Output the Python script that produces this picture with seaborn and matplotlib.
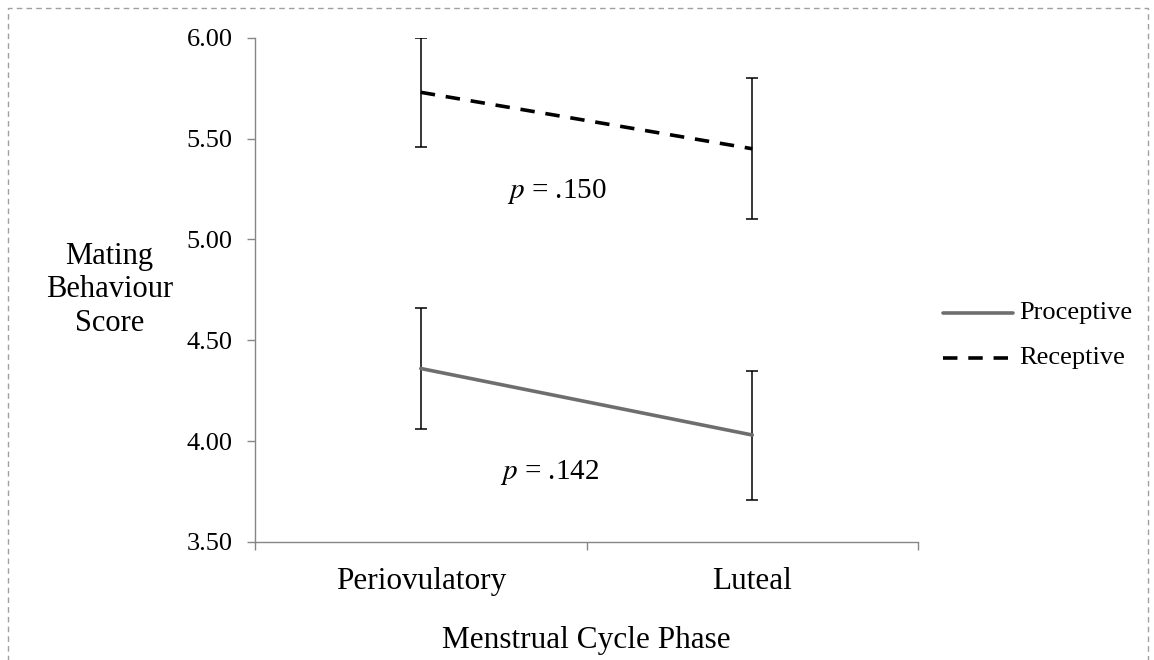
import pandas as pd
import matplotlib.pyplot as plt
import seaborn as sns
from matplotlib.patches import Rectangle

# Chart data
phases = ['Periovulatory', 'Luteal']
proceptive = [4.36, 4.03]
proceptive_err = [0.30, 0.32]
receptive = [5.73, 5.45]
receptive_err = [0.27, 0.35]
p_labels = ['.150', '.142']

df = pd.DataFrame({
    'Phase': phases * 2,
    'Score': proceptive + receptive,
    'Behaviour': ['Proceptive'] * 2 + ['Receptive'] * 2,
})

sns.set_style('white')
plt.rcParams['font.family'] = ['Liberation Serif', 'DejaVu Serif']
plt.rcParams['text.color'] = 'black'
plt.rcParams['axes.labelcolor'] = 'black'

fig = plt.figure(figsize=(11.54, 6.6), dpi=100)
ax = fig.add_axes([0.221, 0.179, 0.5745, 0.7636])

sns.lineplot(
    data=df, x='Phase', y='Score', hue='Behaviour', style='Behaviour',
    palette={'Proceptive': '#6e6e6e', 'Receptive': 'black'},
    dashes={'Proceptive': '', 'Receptive': (4, 3)},
    linewidth=2.6, ax=ax, legend=False, zorder=3,
)

# Error bars
for vals, errs in [(proceptive, proceptive_err), (receptive, receptive_err)]:
    ax.errorbar([0, 1], vals, yerr=errs, fmt='none', ecolor='black',
                elinewidth=1.1, capsize=4.5, capthick=1.1, zorder=2)

ax.set_xlim(-0.5, 1.5)
ax.set_ylim(3.5, 6.0)
yt = [3.5, 4.0, 4.5, 5.0, 5.5, 6.0]
ax.set_yticks(yt)
ax.set_yticklabels([f'{v:.2f}' for v in yt])
ax.set_xticks([0, 1])
ax.set_xticklabels(phases)
ax.set_xticks([-0.5, 0.5, 1.5], minor=True)

for side in ['top', 'right']:
    ax.spines[side].set_visible(False)
for side in ['left', 'bottom']:
    ax.spines[side].set_color('#868686')
    ax.spines[side].set_linewidth(1.0)

ax.tick_params(axis='y', which='major', direction='out', length=6, width=1,
               color='#868686', labelcolor='black', labelsize=19, pad=10, left=True)
ax.tick_params(axis='x', which='major', length=0, labelcolor='black',
               labelsize=22.5, pad=18)
ax.tick_params(axis='x', which='minor', direction='out', length=6, width=1,
               color='#868686', bottom=True)

ax.set_xlabel('Menstrual Cycle Phase', fontsize=22.5, labelpad=22)
ax.set_ylabel('')
fig.text(0.150, 0.561, 'Mating\nBehaviour\nScore', ha='right', va='center',
         multialignment='center', fontsize=22, linespacing=1.2)

# p-value annotations
ax.text(0.41, 5.24, '$p$ = ' + p_labels[0], ha='center', va='center', fontsize=21,
        math_fontfamily='stix')
ax.text(0.39, 3.842, '$p$ = ' + p_labels[1], ha='center', va='center', fontsize=21,
        math_fontfamily='stix')

# Legend
fig.add_artist(plt.Line2D([0.817, 0.878], [0.526, 0.526], color='#6e6e6e', lw=2.6,
                          transform=fig.transFigure))
fig.add_artist(plt.Line2D([0.817, 0.878], [0.458, 0.458], color='black', lw=2.6,
                          dashes=(4, 3), transform=fig.transFigure))
fig.text(0.883, 0.526, 'Proceptive', ha='left', va='center', fontsize=19)
fig.text(0.883, 0.458, 'Receptive', ha='left', va='center', fontsize=19)

# Dashed border
fig.add_artist(Rectangle((0.007, -0.05), 0.988, 1.038, transform=fig.transFigure,
                         fill=False, edgecolor='#a0a0a0', lw=1, linestyle=(0, (4, 3))))

fig.savefig('out.png', dpi=100)
